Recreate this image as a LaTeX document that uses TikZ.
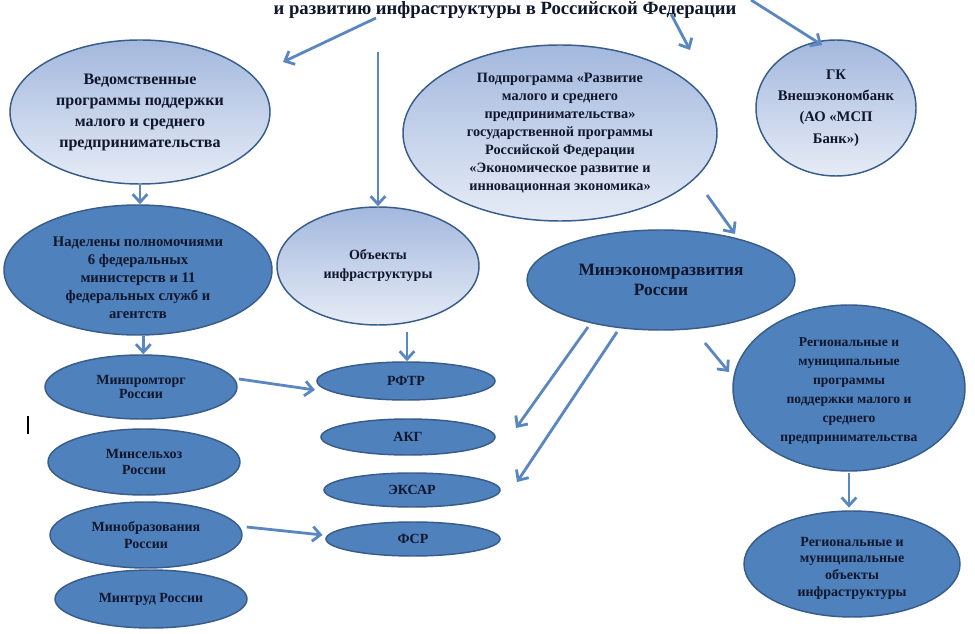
\documentclass[tikz,border=0pt]{standalone}
\usepackage{fontspec}
\setmainfont{Liberation Serif}
\usetikzlibrary{shapes.geometric,arrows.meta}
\definecolor{darkc}{HTML}{4F81BD}
\definecolor{edgec}{HTML}{385D8A}
\definecolor{lta}{HTML}{A3B8DE}
\definecolor{ltb}{HTML}{E6ECF6}
\definecolor{arrc}{HTML}{5A87C0}
\definecolor{txtc}{HTML}{10162C}
\tikzset{
  ell/.style={ellipse, draw=edgec, line width=1.1pt, inner sep=0pt},
  darkell/.style={ell, fill=darkc},
  lightell/.style={ell, top color=lta, bottom color=ltb},
  txt/.style={align=center, text=txtc, inner sep=0pt},
  arr/.style={draw=arrc, line width=2.1pt, -{Straight Barb[length=6pt,width=11pt]}},
}
\newcommand{\fs}[2]{\bfseries\fontsize{#1}{#2}\selectfont}
\begin{document}
\begin{tikzpicture}[x=0.75pt,y=-0.75pt]
\useasboundingbox[fill=white] (0,0) rectangle (975,634);

\node[txt, font=\fs{14}{16}] (title) at (505,10) {и развитию инфраструктуры в Российской Федерации};

% upper ellipses
\node[lightell, minimum width=195pt, minimum height=108pt,
  label={[txt, font=\fs{12}{15.75}]center:{Ведомственные\\программы поддержки\\малого и среднего\\предпринимательства}}] (ved) at (140,112) {};
\node[lightell, minimum width=235.5pt, minimum height=132pt,
  label={[txt, font=\fs{10.7}{13.5}]center:{Подпрограмма «Развитие\\малого и среднего\\предпринимательства»\\государственной программы\\Российской Федерации\\«Экономическое развитие и\\инновационная экономика»}}] (pod) at (560,133) {};
\node[lightell, minimum width=120pt, minimum height=102pt,
  label={[txt, font=\fs{11}{16}]center:{ГК\\Внешэкономбанк\\(АО «МСП\\Банк»)}}] (gk) at (836,108) {};

% middle row
\node[darkell, minimum width=201pt, minimum height=97.5pt,
  label={[txt, font=\fs{11}{13.5}, yshift=-6pt]center:{Наделены полномочиями\\6 федеральных\\министерств и 11\\федеральных служб и\\агентств}}] (nad) at (138,270) {};
\node[lightell, minimum width=151.5pt, minimum height=88.5pt,
  label={[txt, font=\fs{10.5}{14.25}]center:{Объекты\\инфраструктуры}}] (obj) at (378,266) {};
\node[darkell, minimum width=201pt, minimum height=75pt,
  label={[txt, font=\fs{13}{15}]center:{Минэкономразвития\\России}}] (mer) at (661,280) {};
\node[darkell, minimum width=174pt, minimum height=124.5pt,
  label={[txt, font=\fs{10.2}{14.25}, yshift=-2pt]center:{Региональные и\\муниципальные\\программы\\поддержки малого и\\среднего\\предпринимательства}}] (rp) at (849,388) {};
\node[darkell, minimum width=162pt, minimum height=79.5pt,
  label={[txt, font=\fs{10.5}{12.5}, yshift=-3pt]center:{Региональные и\\муниципальные\\объекты\\инфраструктуры}}] (ro) at (852,564) {};

% ministries
\node[darkell, minimum width=144pt, minimum height=48pt,
  label={[txt, font=\fs{10.5}{11}]center:{Минпромторг\\России}}] (mpt) at (141,387) {};
\node[darkell, minimum width=144pt, minimum height=49.5pt,
  label={[txt, font=\fs{10.5}{11.5}]center:{Минсельхоз\\России}}] (msh) at (144,462) {};
\node[darkell, minimum width=144pt, minimum height=49.5pt,
  label={[txt, font=\fs{10.5}{13}]center:{Минобразования\\России}}] (mob) at (146,535) {};
\node[darkell, minimum width=144pt, minimum height=43.5pt,
  label={[txt, font=\fs{10.5}{12}]center:{Минтруд России}}] (mtr) at (151,599) {};

% infrastructure objects
\node[darkell, minimum width=133.5pt, minimum height=28.5pt,
  label={[txt, font=\fs{10.5}{12}]center:{РФТР}}] (rftr) at (406,381) {};
\node[darkell, minimum width=130.5pt, minimum height=27pt,
  label={[txt, font=\fs{10.5}{12}]center:{АКГ}}] (akg) at (408,437) {};
\node[darkell, minimum width=132pt, minimum height=25.5pt,
  label={[txt, font=\fs{10.5}{12}]center:{ЭКСАР}}] (eks) at (412,490) {};
\node[darkell, minimum width=130.5pt, minimum height=25.5pt,
  label={[txt, font=\fs{10.5}{12}]center:{ФСР}}] (fsr) at (413,539) {};

% free ends
\coordinate (a1s) at (376,18);  \coordinate (a1e) at (283,62);
\coordinate (a2s) at (378,52);
\coordinate (a3s) at (671,14);  \coordinate (a3e) at (690,50);
\coordinate (a4s) at (751,0);   \coordinate (a4e) at (822,45);
\coordinate (a6s) at (707,195); \coordinate (a6e) at (735,234);
\coordinate (a8s) at (407,332);
\coordinate (a11s) at (588,327); \coordinate (a11e) at (516,428);
\coordinate (a12s) at (617,332); \coordinate (a12e) at (517,482);
\coordinate (a13s) at (705,343); \coordinate (a13e) at (729,372);

\draw[arr] (a1s) -- (a1e);
\draw[arr] (a2s) -- (a2s |- obj.north);
\draw[arr] (a3s) -- (a3e);
\draw[arr] (a4s) -- (a4e);
\draw[arr] (ved.south) -- (ved.south |- nad.north);
\draw[arr] (a6s) -- (a6e);
\draw[arr] ([xshift=4pt]nad.south) -- ([xshift=4pt]nad.south |- mpt.north);
\draw[arr] (a8s) -- (a8s |- rftr.north);
\draw[arr] ([xshift=1pt]mpt.east |- 0,379) -- ([xshift=-1pt]rftr.west |- 0,390);
\draw[arr] ([xshift=3pt]mob.east |- 0,527) -- ([xshift=-2pt]fsr.west |- 0,535);
\draw[arr] (a11s) -- (a11e);
\draw[arr] (a12s) -- (a12e);
\draw[arr] (a13s) -- (a13e);
\draw[arr] ([yshift=-1pt]rp.south) -- ([yshift=2pt]rp.south |- ro.north);

% stray cursor mark
\coordinate (cur1) at (28,416); \coordinate (cur2) at (28,434);
\draw[line width=0.8pt] (cur1) -- (cur2);
\end{tikzpicture}
\end{document}
